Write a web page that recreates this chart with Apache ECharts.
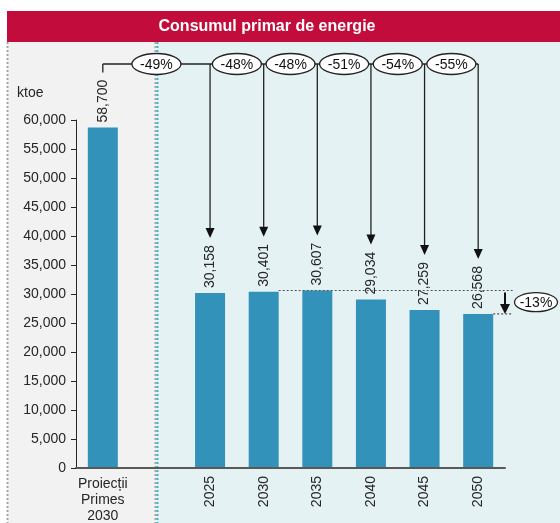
<!DOCTYPE html>
<html>
<head>
<meta charset="utf-8">
<script src="https://cdn.jsdelivr.net/npm/echarts@6/dist/echarts.min.js"></script>
<style>
  html, body { margin: 0; padding: 0; background: #fff; }
  #main { width: 560px; height: 523px; }
</style>
</head>
<body>
<div id="main"></div>
<script>
// categories (empty slot = gap between projection and scenario years)
const categories = ['Proiecții\nPrimes\n2030', '', '2025', '2030', '2035', '2040', '2045', '2050'];
const values = [58700, null, 30158, 30401, 30607, 29034, 27259, 26568];
// change vs. Primes 2030 projection, one per year
const changeLabels = ['-49%', '-48%', '-48%', '-51%', '-54%', '-55%'];
// change 2050 vs. peak (2035)
const peakIndex = 4;
const lastIndex = 7;
const peakChange = '-13%';
const yMin = 0, yMax = 60000, yStep = 5000;

const FONT = 'Liberation Sans, Arial, sans-serif';
const TXT = '#262626';
const FS = 14;

const chart = echarts.init(document.getElementById('main'));

const fmt = v => Number(v).toLocaleString('en-US');

chart.setOption({
  animation: false,
  backgroundColor: '#fff',
  grid: { left: 76, right: 55, top: 120, bottom: 55, outerBoundsMode: 'none' },
  xAxis: [
    {
      type: 'category',
      data: categories,
      position: 'bottom',
      z: 5,
      axisLine: { show: true, onZero: false, lineStyle: { color: '#595959', width: 2 } },
      axisTick: { show: false },
      axisLabel: {
        interval: 0, rotate: 90, margin: 8,
        fontFamily: FONT, fontSize: FS, color: TXT,
        formatter: (v, i) => (i < 2 ? '' : v)
      }
    },
    {
      type: 'category',
      data: categories,
      position: 'bottom',
      axisLine: { show: false, onZero: false },
      axisTick: { show: false },
      axisLabel: {
        interval: 0, rotate: 0, margin: 8,
        fontFamily: FONT, fontSize: FS, color: TXT, lineHeight: 16,
        formatter: (v, i) => (i === 0 ? v : '')
      }
    }
  ],
  yAxis: {
    type: 'value',
    min: yMin, max: yMax, interval: yStep,
    z: 5,
    axisLine: { show: true, lineStyle: { color: TXT, width: 1 } },
    axisTick: { show: true, length: 5, lineStyle: { color: TXT } },
    splitLine: { show: false },
    axisLabel: { fontFamily: FONT, fontSize: FS, color: TXT, margin: 10, formatter: fmt }
  },
  series: [{
    type: 'bar',
    data: values,
    barWidth: 30,
    itemStyle: { color: '#3392BA' },
    label: {
      show: true,
      position: 'top',
      rotate: 90,
      align: 'left',
      verticalAlign: 'middle',
      distance: 5,
      fontFamily: FONT, fontSize: FS, color: TXT,
      formatter: p => fmt(p.value)
    }
  }]
});

// annotations, placed from the chart's own scales
function px(i, v) {
  return chart.convertToPixel({ xAxisIndex: 0, yAxisIndex: 0 }, [i, v || 0]);
}
const g = [];
const W = 560, H = 523;
const divX = px(1, 0)[0];
const topY = px(0, yMax)[1];
const rowY = topY - 56;

// panels
g.push({ type: 'rect', z: -10, shape: { x: 7, y: 42, width: divX - 7, height: H - 42 }, style: { fill: '#F2F2F2' } });
g.push({ type: 'rect', z: -10, shape: { x: divX, y: 42, width: W - divX, height: H - 42 }, style: { fill: '#E4F2F4' } });
g.push({ type: 'line', z: -5, shape: { x1: 7.5, y1: 42, x2: 7.5, y2: H }, style: { stroke: '#A6A6A6', lineWidth: 2, lineDash: [2, 2] } });
g.push({ type: 'line', z: -5, shape: { x1: divX - 1, y1: 42, x2: divX - 1, y2: H }, style: { stroke: '#A6A6A6', lineWidth: 2, lineDash: [2, 2] } });
g.push({ type: 'line', z: -5, shape: { x1: divX + 1, y1: 42, x2: divX + 1, y2: H }, style: { stroke: '#3FB0C6', lineWidth: 2, lineDash: [2, 2] } });

// title bar
g.push({ type: 'rect', z: 10, shape: { x: 7, y: 11, width: W - 7, height: 31 }, style: { fill: '#C20C3B' } });
g.push({ type: 'text', z: 11, x: 267, y: 27, style: { text: 'Consumul primar de energie', font: 'bold 16px ' + FONT, fill: '#fff', align: 'center', verticalAlign: 'middle' } });

// unit
g.push({ type: 'text', z: 11, x: 17, y: 93, style: { text: 'ktoe', font: FS + 'px ' + FONT, fill: TXT, align: 'left', verticalAlign: 'middle' } });

// connectors from the projection bar to each year
const x0 = px(0, 0)[0];
const xLast = px(lastIndex, 0)[0];
g.push({ type: 'line', z: 10, shape: { x1: x0, y1: rowY, x2: xLast, y2: rowY }, style: { stroke: '#222', lineWidth: 1.3 } });
values.forEach((v, i) => {
  if (v == null) return;
  const p = px(i, v);
  const yEnd = p[1] - 55;
  if (i === 0) {
    g.push({ type: 'line', z: 10, shape: { x1: p[0], y1: rowY, x2: p[0], y2: yEnd }, style: { stroke: '#222', lineWidth: 1.3 } });
  } else {
    g.push({ type: 'line', z: 10, shape: { x1: p[0], y1: rowY, x2: p[0], y2: yEnd - 8 }, style: { stroke: '#222', lineWidth: 1.3 } });
    g.push({ type: 'polygon', z: 10, shape: { points: [[p[0] - 4.5, yEnd - 10], [p[0] + 4.5, yEnd - 10], [p[0], yEnd]] }, style: { fill: '#111' } });
  }
});

// change bubbles
const bubbleX = [divX];
for (let i = 2; i < lastIndex; i++) bubbleX.push((px(i, 0)[0] + px(i + 1, 0)[0]) / 2);
changeLabels.forEach((t, k) => {
  g.push({ type: 'ellipse', z: 12, shape: { cx: bubbleX[k], cy: rowY, rx: 24.5, ry: 10.5 }, style: { fill: '#fff', stroke: '#222', lineWidth: 1.3 } });
  g.push({ type: 'text', z: 13, x: bubbleX[k], y: rowY + 1, style: { text: t, font: FS + 'px ' + FONT, fill: '#111', align: 'center', verticalAlign: 'middle' } });
});

// peak vs 2050
const yPeak = px(peakIndex, values[peakIndex])[1];
const yLast = px(lastIndex, values[lastIndex])[1];
const xRef = px(peakIndex - 1, 0)[0] + 15;
const xEndBar = xLast + 15;
const arrowX = 505;
g.push({ type: 'line', z: 10, shape: { x1: xRef, y1: yPeak, x2: 513, y2: yPeak }, style: { stroke: '#555', lineWidth: 1.2, lineDash: [2, 2] } });
g.push({ type: 'line', z: 10, shape: { x1: xEndBar, y1: yLast, x2: 513, y2: yLast }, style: { stroke: '#555', lineWidth: 1.2, lineDash: [2, 2] } });
g.push({ type: 'line', z: 10, shape: { x1: arrowX, y1: yPeak + 2, x2: arrowX, y2: yLast - 8 }, style: { stroke: '#111', lineWidth: 2 } });
g.push({ type: 'polygon', z: 10, shape: { points: [[arrowX - 5, yLast - 10], [arrowX + 5, yLast - 10], [arrowX, yLast]] }, style: { fill: '#111' } });
g.push({ type: 'ellipse', z: 12, shape: { cx: 536, cy: (yPeak + yLast) / 2, rx: 21.5, ry: 9.5 }, style: { fill: '#fff', stroke: '#222', lineWidth: 1.3 } });
g.push({ type: 'text', z: 13, x: 536, y: (yPeak + yLast) / 2 + 1, style: { text: peakChange, font: FS + 'px ' + FONT, fill: '#111', align: 'center', verticalAlign: 'middle' } });

chart.setOption({ graphic: { elements: g } });
</script>
</body>
</html>
